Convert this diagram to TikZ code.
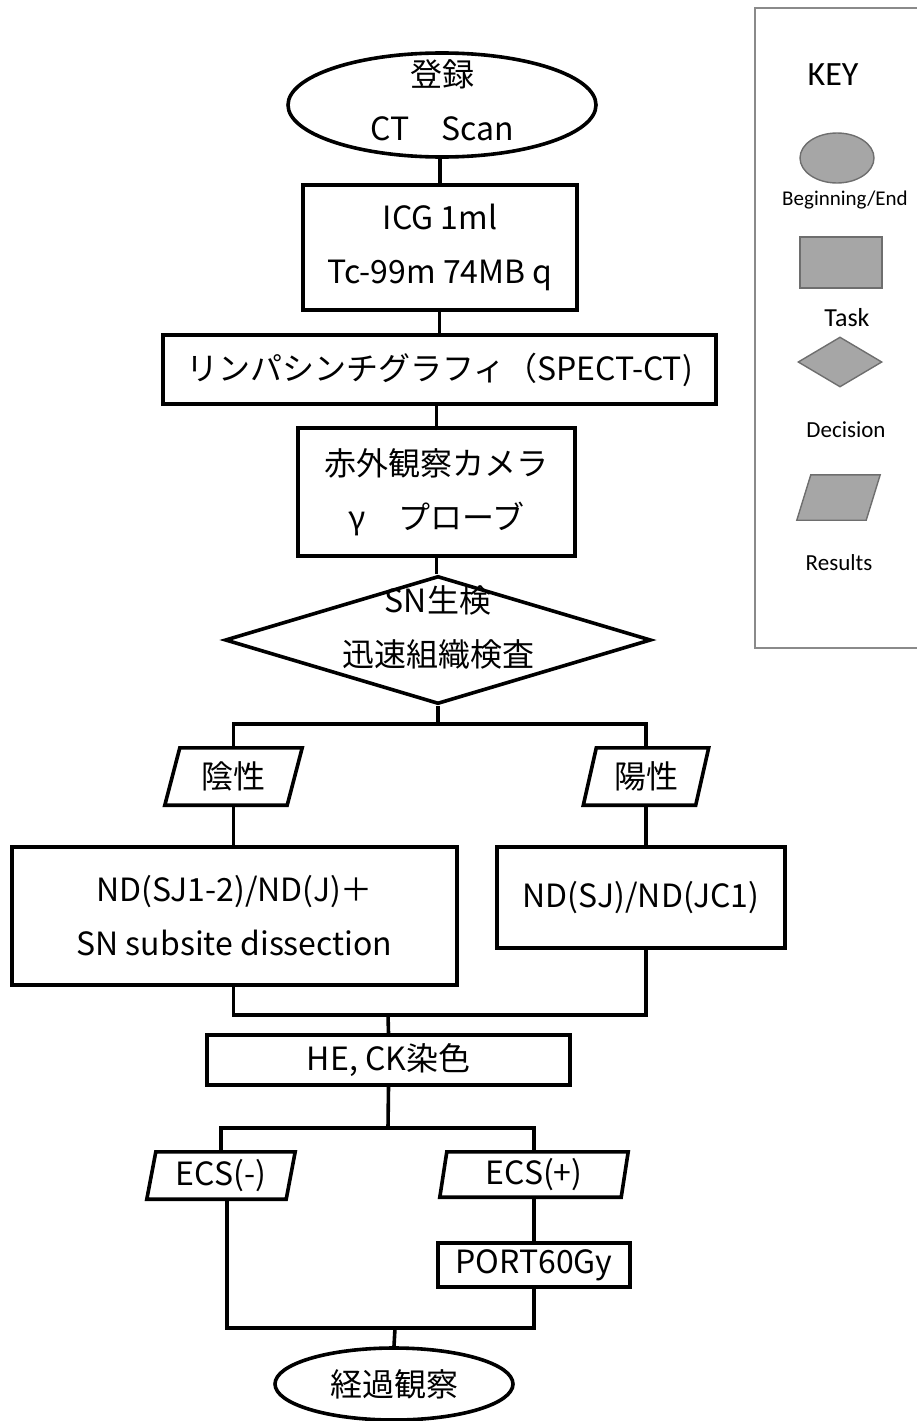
\documentclass[tikz,border=0pt]{standalone}
\usepackage{fontspec}
\usetikzlibrary{shapes.geometric}
\newfontfamily\jp{Noto Sans CJK JP}
\newfontfamily\keyfont{Carlito}
\definecolor{keygray}{HTML}{A6A6A6}
\definecolor{keydark}{HTML}{6E6E6E}
\definecolor{keyframe}{HTML}{8A8A8A}
\begin{document}
\begin{tikzpicture}[x=1pt,y=-1pt,
  line/.style={line width=3.6pt, draw=black},
  jpfont/.style={font=\jp\fontsize{32}{54}\selectfont},
  txt/.style={jpfont, align=center, inner sep=0pt},
  taskbox/.style={rectangle, draw, line width=3.6pt, inner sep=0pt, jpfont, align=center},
  termin/.style={ellipse, draw, line width=3.6pt, inner sep=0pt, jpfont, align=center},
  decis/.style={diamond, draw, line width=3.6pt, inner sep=0pt},
  resbox/.style={rectangle, inner sep=0pt, jpfont, align=center},
  keyshape/.style={draw=keydark, fill=keygray, line width=1.4pt, inner sep=0pt},
  keytxt/.style={font=\keyfont\fontsize{22}{26}\selectfont, inner sep=0pt}
]
\useasboundingbox (0,0) rectangle (917,1421);

% ---------- main flow ----------
\node[termin, minimum width=308, minimum height=104] (start) at (442,105) {};
\node[txt] (starttxt) at (442,100) {登録\\CT　Scan};

\node[taskbox, minimum width=274, minimum height=125] (icg) at (440,247.5) {ICG 1ml\\Tc-99m 74MB q};
\node[taskbox, minimum width=553, minimum height=69] (lym) at (439.5,369.5) {リンパシンチグラフィ（SPECT-CT)};
\node[taskbox, minimum width=277, minimum height=128] (cam) at (436.5,492) {赤外観察カメラ\\γ　プローブ};

\node[decis, minimum width=426, minimum height=128] (dec) at (438,640) {};
\node[txt] (dectxt) at (438,627) {SN生検\\迅速組織検査};

\node[resbox, minimum width=137, minimum height=57] (neg) at (233.5,776.5) {陰性};
\draw[line] ([xshift=15pt]neg.north west) -- (neg.north east) -- ([xshift=-15pt]neg.south east) -- (neg.south west) -- cycle;
\node[resbox, minimum width=125, minimum height=57] (pos) at (646,776.5) {陽性};
\draw[line] ([xshift=13pt]pos.north west) -- (pos.north east) -- ([xshift=-13pt]pos.south east) -- (pos.south west) -- cycle;

\node[taskbox, minimum width=445, minimum height=138] (lbox) at (234.5,916) {ND(SJ1-2)/ND(J)＋\\SN subsite dissection};
\node[taskbox, minimum width=288, minimum height=101] (rbox) at (641,897.5) {ND(SJ)/ND(JC1)};

\node[taskbox, minimum width=363, minimum height=50] (he) at (388.5,1060) {HE, CK染色};

\node[resbox, minimum width=148, minimum height=47] (ecsn) at (221,1175.5) {ECS(-)};
\draw[line] ([xshift=9pt]ecsn.north west) -- (ecsn.north east) -- ([xshift=-9pt]ecsn.south east) -- (ecsn.south west) -- cycle;
\node[resbox, minimum width=188, minimum height=45] (ecsp) at (534,1174.5) {ECS(+)};
\draw[line] ([xshift=7pt]ecsp.north west) -- (ecsp.north east) -- ([xshift=-7pt]ecsp.south east) -- (ecsp.south west) -- cycle;

\node[taskbox, minimum width=192, minimum height=44] (port) at (534,1265) {PORT60Gy};

\node[termin, minimum width=238, minimum height=72] (endn) at (394,1384) {経過観察};

% ---------- connectors ----------
\coordinate (j1) at (438,724);
\coordinate (j2) at (388,1015);
\coordinate (j3) at (388,1128);
\coordinate (j4) at (395,1328);

\draw[line] (start.south -| icg.north) -- (icg.north);
\draw[line] (icg.south -| lym.north) -- (lym.north);
\draw[line] (lym.south -| cam.north) -- (cam.north);
\draw[line] (cam.south) -- (cam.south |- dec.north);
\draw[line] (dec.south) -- (j1);
\draw[line] (j1) -| (neg.north);
\draw[line] (j1) -| (pos.north);
\draw[line] (neg.south) -- (neg.south |- lbox.north);
\draw[line] (pos.south) -- (pos.south |- rbox.north);
\draw[line] (lbox.south -| neg.south) |- (j2);
\draw[line] (rbox.south -| pos.south) |- (j2);
\draw[line] (j2) -- (he.north);
\draw[line] (he.south) -- (j3);
\draw[line] (j3) -| (ecsn.north);
\draw[line] (j3) -| (ecsp.north);
\draw[line] (ecsp.south) -- (port.north);
\draw[line] ([xshift=6pt]ecsn.south) |- (j4);
\draw[line] (port.south) |- (j4);
\draw[line] (j4) -- (endn.north);

% ---------- key ----------
\draw[draw=keyframe, line width=1.6pt] (918,8) -- (755,8) -- (755,648) -- (918,648);
\node[font=\keyfont\fontsize{34}{40}\selectfont, inner sep=0pt] (keyt) at (833,75) {KEY};
\node[keyshape, ellipse, minimum width=74, minimum height=50] (k1) at (837,158) {};
\node[keytxt, font=\keyfont\fontsize{21}{25}\selectfont] (k1t) at (845,200) {Beginning/End};
\node[keyshape, rectangle, minimum width=82, minimum height=51] (k2) at (841,262.5) {};
\node[keytxt, font=\keyfont\fontsize{26}{30}\selectfont] (k2t) at (847,318) {Task};
\node[keyshape, diamond, minimum width=84, minimum height=50] (k3) at (840,362) {};
\node[keytxt, font=\keyfont\fontsize{23}{27}\selectfont] (k3t) at (846,430) {Decision};
\node[inner sep=0pt, minimum width=83, minimum height=45] (k4) at (838.5,497.5) {};
\draw[draw=keydark, fill=keygray, line width=1.4pt] ([xshift=14pt]k4.north west) -- (k4.north east) -- ([xshift=-14pt]k4.south east) -- (k4.south west) -- cycle;
\node[keytxt, font=\keyfont\fontsize{23}{27}\selectfont] (k4t) at (839,563) {Results};
\end{tikzpicture}
\end{document}
